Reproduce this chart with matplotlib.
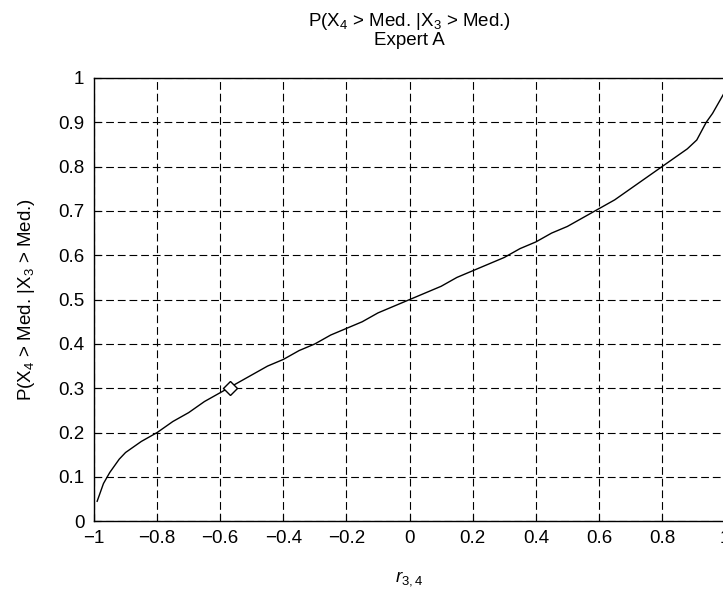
import matplotlib
matplotlib.use("Agg")
from matplotlib import pyplot as plt

plt.rcParams['font.family'] = ['Liberation Sans', 'DejaVu Sans']
plt.rcParams['mathtext.fontset'] = 'custom'
plt.rcParams['mathtext.rm'] = 'Liberation Sans'
plt.rcParams['mathtext.it'] = 'Liberation Sans:italic'
plt.rcParams['mathtext.default'] = 'regular'

# correlation r_{3,4} vs conditional probability
r = [-0.99, -0.97, -0.95, -0.92, -0.90, -0.85, -0.80, -0.75, -0.70, -0.65,
     -0.60, -0.55, -0.50, -0.45, -0.40, -0.35, -0.30, -0.25, -0.20, -0.15,
     -0.10, -0.05, 0.00, 0.05, 0.10, 0.15, 0.20, 0.25, 0.30, 0.35,
     0.40, 0.45, 0.50, 0.55, 0.60, 0.65, 0.70, 0.75, 0.80, 0.85,
     0.88, 0.91, 0.94, 0.96, 0.98, 1.00]
p = [0.045, 0.085, 0.11, 0.14, 0.155, 0.18, 0.20, 0.225, 0.245, 0.27,
     0.29, 0.31, 0.33, 0.35, 0.365, 0.385, 0.40, 0.42, 0.435, 0.45,
     0.47, 0.485, 0.50, 0.515, 0.53, 0.55, 0.565, 0.58, 0.595, 0.615,
     0.63, 0.65, 0.665, 0.685, 0.705, 0.725, 0.75, 0.775, 0.80, 0.825,
     0.84, 0.86, 0.90, 0.92, 0.945, 0.97]

# expert's assessed point
expert_r = [-0.57]
expert_p = [0.30]

xticks = [-1, -0.8, -0.6, -0.4, -0.2, 0, 0.2, 0.4, 0.6, 0.8, 1]
yticks = [0, 0.1, 0.2, 0.3, 0.4, 0.5, 0.6, 0.7, 0.8, 0.9, 1]

fig = plt.figure(figsize=(7.23, 5.95), dpi=100)
ax = fig.add_axes([0.130, 0.124, 0.873, 0.745])

ax.plot(r, p, color='black', lw=1.0)
ax.plot(expert_r, expert_p, marker='D', ms=7.5, mfc='white', mec='black',
        mew=1.0, ls='none')

ax.set_xlim(-1, 1)
ax.set_ylim(0, 1)
ax.set_xticks(xticks)
ax.set_yticks(yticks)
ax.set_xticklabels(['\u22121', '\u22120.8', '\u22120.6', '\u22120.4', '\u22120.2',
                    '0', '0.2', '0.4', '0.6', '0.8', '1'])
ax.set_yticklabels(['0', '0.1', '0.2', '0.3', '0.4', '0.5', '0.6', '0.7',
                    '0.8', '0.9', '1'])
ax.tick_params(direction='in', length=5, labelsize=13.5)
ax.tick_params(axis='y', pad=7)
ax.tick_params(axis='x', pad=6)
ax.grid(True, color='black', ls=(0, (7, 3.5)), lw=0.8)

ax.set_xlabel(r'$\mathit{r}_{\mathit{3,4}}$', fontsize=13.5, labelpad=16)
ax.set_ylabel(r'P(X$_4$ > Med. |X$_3$ > Med.)', fontsize=13.5, labelpad=15)
ax.set_title('P(X$_4$ > Med. |X$_3$ > Med.)\nExpert A', fontsize=13.5,
             pad=24, linespacing=1.0)

for s in ax.spines.values():
    s.set_linewidth(1.0)

fig.savefig('out.png', dpi=100)
